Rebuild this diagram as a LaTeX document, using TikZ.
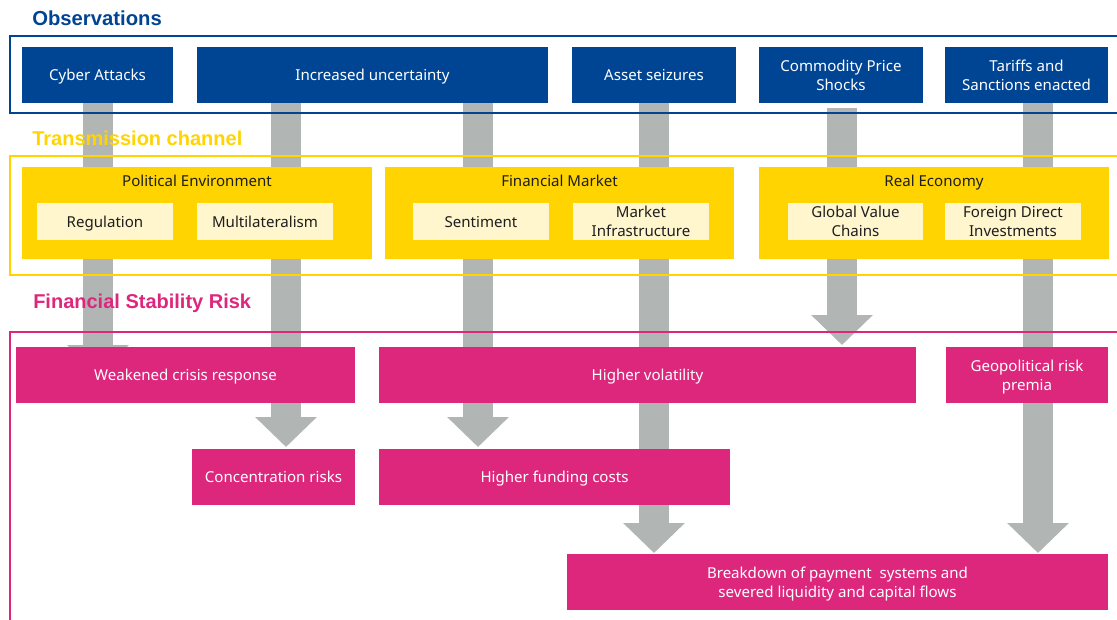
\documentclass[tikz,border=0pt]{standalone}
\usepackage{fontspec}
\setmainfont{Noto Sans}
\newfontfamily\obsfont{Liberation Sans}
\usetikzlibrary{arrows.meta,calc}
\definecolor{ecbblue}{RGB}{0,68,148}
\definecolor{ecbyellow}{RGB}{255,212,0}
\definecolor{lightyel}{RGB}{255,246,206}
\definecolor{ecbmag}{RGB}{221,39,125}
\definecolor{arrgray}{RGB}{177,182,181}
\definecolor{darktext}{RGB}{30,30,30}
\pgfdeclarelayer{arrowlayer}
\pgfdeclarelayer{framelayer}
\pgfsetlayers{arrowlayer,framelayer,main}
\newcommand\pbox[7]{\node[#1, minimum width={(#5-#3)*0.75pt}, minimum height={(#6-#4)*0.75pt}] (#2) at ({(#3+#5)/2},{(#4+#6)/2}) {#7};}
\tikzset{
  base/.style={inner sep=0pt, outer sep=0pt, align=center, text depth=0pt, font=\fontsize{11.3}{14.5}\selectfont},
  obsbox/.style={base, fill=ecbblue, text=white},
  chanbox/.style={base, fill=ecbyellow},
  subbox/.style={base, fill=lightyel, text=darktext},
  riskbox/.style={base, fill=ecbmag, text=white},
  chantitle/.style={inner sep=0pt, anchor=base, text=darktext, font=\fontsize{11.3}{14.5}\selectfont},
  blk/.style={draw=arrgray, line width=22.5pt, -{Triangle[width=45pt,length=22.5pt]}},
  frameline/.style={line width=1.1pt},
  sectitle/.style={anchor=west, inner sep=0pt, font=\obsfont\fontsize{15}{18}\selectfont\bfseries}
}
\begin{document}
\begin{tikzpicture}[x=0.75pt, y=-0.75pt]
\useasboundingbox (0,0) rectangle (1117,620);
% section titles
\node[sectitle, text=ecbblue, font=\obsfont\fontsize{15.2}{18}\selectfont\bfseries] (tobs) at (32,18) {Observations};
\node[sectitle, text=ecbyellow] (tchan) at (32,138) {Transmission channel};
\node[sectitle, text=ecbmag] (trisk) at (33,303) {Financial Stability Risk};
% observation boxes
\pbox{obsbox}{cyber}{22}{47}{173}{103}{Cyber Attacks}
\pbox{obsbox}{incr}{197}{47}{548}{103}{Increased uncertainty}
\pbox{obsbox}{asset}{572}{47}{736}{103}{Asset seizures}
\pbox{obsbox}{comm}{759}{47}{923}{103}{Commodity Price\\Shocks}
\pbox{obsbox}{tariff}{945}{47}{1108}{103}{Tariffs and\\Sanctions enacted}
% transmission channel boxes
\pbox{chanbox}{polenv}{22}{167}{372}{259}{}
\pbox{chanbox}{finmkt}{385}{167}{734}{259}{}
\pbox{chanbox}{realec}{759}{167}{1109}{259}{}
\node[chantitle] (polenvt) at ($(polenv.north)+(0,19.5)$) {Political Environment};
\node[chantitle] (finmktt) at ($(finmkt.north)+(0,19.5)$) {Financial Market};
\node[chantitle] (realect) at ($(realec.north)+(0,19.5)$) {Real Economy};
\pbox{subbox}{reg}{37}{203}{173}{240}{Regulation}
\pbox{subbox}{multi}{197}{203}{333}{240}{Multilateralism}
\pbox{subbox}{sent}{413}{203}{549}{240}{Sentiment}
\pbox{subbox}{mktinf}{573}{203}{709}{240}{Market\\Infrastructure}
\pbox{subbox}{gvc}{788}{203}{923}{240}{Global Value\\Chains}
\pbox{subbox}{fdi}{945}{203}{1081}{240}{Foreign Direct\\Investments}
% risk boxes
\pbox{riskbox}{weak}{16}{347}{355}{403}{Weakened crisis response}
\pbox{riskbox}{vol}{379}{347}{916}{403}{Higher volatility}
\pbox{riskbox}{geo}{946}{347}{1108}{403}{Geopolitical risk\\premia}
\pbox{riskbox}{conc}{192}{449}{355}{505}{Concentration risks}
\pbox{riskbox}{fund}{379}{449}{730}{505}{Higher funding costs}
\pbox{riskbox}{brk}{567}{554}{1108}{610}{Breakdown of payment\ \ systems and\\severed liquidity and capital flows}
% arrow start coordinates
\coordinate (s1) at ($(cyber.south)+(0.5,0)$);
\coordinate (s2) at ($(incr.south west)+(89,0)$);
\coordinate (s3) at ($(incr.south west)+(281,0)$);
\coordinate (s5) at ($(comm.south)+(1,5)$);
\coordinate (s6) at ($(tariff.south)+(11.5,0)$);
% gray block arrows (behind everything)
\begin{pgfonlayer}{arrowlayer}
\draw[blk] (s1) -- (s1 |- weak.center);
\draw[blk] (s2) -- ($(s2 |- conc.north)+(0,-2)$);
\draw[blk] (s3) -- ($(s3 |- fund.north)+(0,-2)$);
\draw[blk] (asset.south) -- ($(asset.south |- brk.north)+(0,-1)$);
\draw[blk] (s5) -- ($(s5 |- vol.north)+(0,-2)$);
\draw[blk] (s6) -- ($(s6 |- brk.north)+(0,-1)$);
\end{pgfonlayer}
% section frames
\begin{pgfonlayer}{framelayer}
\draw[frameline, draw=ecbblue] (1117,36) -- (10,36) -- (10,113) -- (1117,113);
\draw[frameline, draw=ecbyellow] (1117,156) -- (10,156) -- (10,275) -- (1117,275);
\draw[frameline, draw=ecbmag] (1117,332) -- (10,332) -- (10,620);
\end{pgfonlayer}
\end{tikzpicture}
\end{document}
